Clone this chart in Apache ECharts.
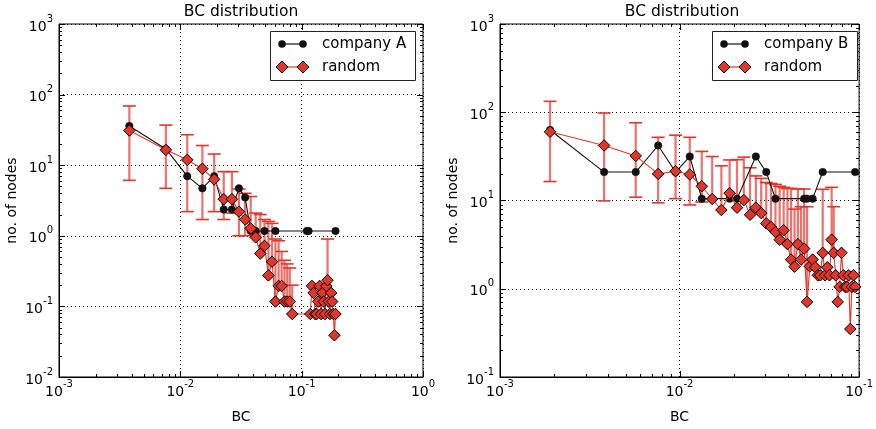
<!DOCTYPE html>
<html>
<head>
<meta charset="utf-8">
<script src="https://cdn.jsdelivr.net/npm/echarts@6/dist/echarts.min.js"></script>
<style>
  html, body { margin: 0; padding: 0; background: #fff; }
  #chart { width: 876px; height: 429px; }
</style>
</head>
<body>
<div id="chart"></div>
<script>
// ---- Company A: betweenness-centrality histogram (non-empty bins only) ----
const bcA    = [0.0038, 0.0076, 0.0114, 0.0152, 0.019, 0.0228, 0.0266, 0.0304, 0.0342, 0.038,
                0.0418, 0.0494, 0.0608, 0.1102, 0.114, 0.19];
const nodesA = [36, 17, 7.0, 4.7, 7.0, 2.35, 2.35, 4.7, 3.5, 1.17,
                1.17, 1.17, 1.17, 1.17, 1.17, 1.17];

// Random graphs of the same size: mean count per bin, with spread
const bcRandA    = [0.0038, 0.0076, 0.0114, 0.0152, 0.019, 0.0228, 0.0266, 0.0304, 0.0342, 0.038,
                    0.0418, 0.0456, 0.0494, 0.0532, 0.057, 0.0608, 0.0646, 0.0684, 0.0722, 0.076,
                    0.0798, 0.0836,
                    0.1178, 0.1216, 0.1254, 0.1292, 0.133, 0.1368, 0.1406, 0.1444, 0.1482, 0.152,
                    0.1558, 0.1596, 0.1634, 0.1672, 0.171, 0.1748, 0.1786, 0.1824, 0.1862, 0.19];
const nodesRandA = [31, 16.5, 11.9, 8.9, 6.3, 3.3, 3.3, 2.2, 1.7, 1.27,
                    0.95, 0.56, 0.72, 0.275, 0.43, 0.117, 0.195, 0.195, 0.117, 0.117,
                    0.117, 0.078,
                    0.078, 0.195, 0.155, 0.078, 0.078, 0.117, 0.195, 0.078, 0.155, 0.117,
                    0.078, 0.195, 0.235, 0.117, 0.078, 0.155, 0.117, 0.078, 0.039, 0.078];
const randLowA   = [6.1, 4.7, 2.2, 1.7, 2.2, 1.7, 2.1, 1.0, 1.0, null,
                    null, null, null, null, null, null, null, null, null, null,
                    null, null,
                    null, null, null, null, null, null, null, null, null, null,
                    null, null, null, null, null, null, null, null, null, null];
const randHighA  = [69, 37, 27, 19, 14.4, 8.1, 8.1, 4.6, 4.0, 3.6,
                    2.1, 2.0, 1.7, 1.6, 1.5, 0.9, 0.85, 0.6, 0.45, 0.4,
                    0.35, 0.2,
                    null, null, null, null, null, null, null, null, null, null,
                    null, null, 0.9, null, null, null, null, null, null, null];

// ---- Company B ----
const bcB    = [0.0019, 0.0038, 0.0057, 0.0076, 0.0095, 0.0114, 0.0133, 0.0152, 0.019, 0.0209,
                0.0266, 0.0304, 0.0342, 0.0494, 0.0513, 0.0551, 0.0627, 0.095];
const nodesB = [63, 21, 21, 42, 21, 31.5, 10.5, 10.5, 10.5, 10.5,
                31.5, 21, 10.5, 10.5, 10.5, 10.5, 21, 21];

const bcRandB    = [0.0019, 0.0038, 0.0057, 0.0076, 0.0095, 0.0114, 0.0133, 0.0152, 0.0171, 0.019,
                    0.0209, 0.0228, 0.0247, 0.0266, 0.0285, 0.0304, 0.0323, 0.0342, 0.0361, 0.038,
                    0.0399, 0.0418, 0.0437, 0.0456, 0.0475, 0.0494, 0.0513, 0.0532, 0.0551, 0.057,
                    0.0589, 0.0608, 0.0627, 0.0646, 0.0665, 0.0684, 0.0703, 0.0722, 0.0741, 0.076,
                    0.0779, 0.0798, 0.0817, 0.0836, 0.0855, 0.0874, 0.0893, 0.0912, 0.0931, 0.095];
const nodesRandB = [60, 42, 32, 20, 21.5, 19.7, 14.5, 10.4, 7.8, 12.1,
                    8.3, 10.1, 6.9, 8.3, 7.2, 5.5, 5.0, 4.4, 3.6, 4.6,
                    3.2, 2.14, 1.78, 3.2, 2.14, 2.85, 0.71, 1.79, 2.14, 1.75,
                    1.42, 1.42, 2.55, 1.42, 1.75, 1.42, 3.6, 2.55, 1.42, 0.71,
                    1.05, 2.55, 1.42, 1.05, 1.05, 1.42, 0.35, 1.05, 1.42, 1.05];
const randLowB   = [16.4, 9.9, 10.9, 9.4, 10.5, 8.9, 9.6, null, null, null,
                    null, null, null, null, null, null, null, null, null, null,
                    null, null, null, null, null, null, null, null, null, null,
                    null, null, null, null, null, null, null, null, null, null,
                    null, null, null, null, null, null, null, null, null, null];
const randHighB  = [133, 98, 76, 52, 55, 52, 36, 31.5, 24.7, 28.8,
                    29, 31, 23.5, 19, 17.8, 16, 15.6, 15.2, 14.5, 14.1,
                    13.7, 13.7, 8.0, 13.5, 8.5, 13.5, 8.5, null, null, null,
                    null, null, 13.4, null, null, null, 14.1, 8.5, null, null,
                    null, null, null, null, null, null, null, null, null, null];

// Decade exponents spanned by each axis
const xExpA = [-3, -2, -1, 0];
const yExpA = [-2, -1, 0, 1, 2, 3];
const xExpB = [-3, -2, -1];
const yExpB = [-1, 0, 1, 2, 3];

const FONT = 'DejaVu Sans';
const RED = '#e3362b';
const DARK = '#111111';

const zip = (xs, ys) => xs.map((x, i) => [x, ys[i]]);
const zipErr = (xs, ys, lo, hi) => xs.map((x, i) => [x, ys[i], lo[i] == null ? '-' : lo[i], hi[i] == null ? '-' : hi[i]]);

// Decade and in-between tick values for one axis
function tickItems(exps, axis, other) {
  const out = [];
  for (let i = 0; i < exps.length; i++) {
    const base = Math.pow(10, exps[i]);
    out.push(axis === 0 ? [base, other, 0, 1] : [other, base, 1, 1]);
    if (i < exps.length - 1) {
      for (let m = 2; m <= 9; m++) {
        const v = m * base;
        out.push(axis === 0 ? [v, other, 0, 0] : [other, v, 1, 0]);
      }
    }
  }
  return out;
}

const supRich = {
  b: { fontFamily: FONT, fontSize: 14, color: '#000', lineHeight: 20, verticalAlign: 'bottom' },
  s: { fontFamily: FONT, fontSize: 10, color: '#000', lineHeight: 12, verticalAlign: 'top' }
};
const powLabel = v => '{b|10}{s|' + Math.round(Math.log10(v)) + '}';

function xAxisFor(idx, exps) {
  return {
    type: 'log', logBase: 10, gridIndex: idx,
    min: Math.pow(10, exps[0]), max: Math.pow(10, exps[exps.length - 1]),
    name: 'BC', nameLocation: 'middle', nameGap: 33,
    nameTextStyle: { fontFamily: FONT, fontSize: 14, color: '#000' },
    axisLine: { show: true, onZero: false, lineStyle: { color: '#000', width: 1 } },
    axisTick: { show: false },
    minorTick: { show: false },
    axisLabel: { formatter: powLabel, rich: supRich, margin: 2, showMinLabel: true, showMaxLabel: true },
    splitLine: { show: true, lineStyle: { color: '#000', width: 1, type: [1, 3] } }
  };
}
function yAxisFor(idx, exps) {
  return {
    type: 'log', logBase: 10, gridIndex: idx,
    min: Math.pow(10, exps[0]), max: Math.pow(10, exps[exps.length - 1]),
    name: 'no. of nodes', nameLocation: 'middle', nameGap: 40, nameRotate: 90,
    nameTextStyle: { fontFamily: FONT, fontSize: 14, color: '#000' },
    axisLine: { show: true, onZero: false, lineStyle: { color: '#000', width: 1 } },
    axisTick: { show: false },
    minorTick: { show: false },
    axisLabel: { formatter: powLabel, rich: supRich, margin: 6, showMinLabel: true, showMaxLabel: true },
    splitLine: { show: true, lineStyle: { color: '#000', width: 1, type: [1, 3] } }
  };
}

// Inward ticks on all four sides of a panel
function renderTicks(params, api) {
  const cs = params.coordSys;
  const isY = api.value(2) === 1;
  const len = api.value(3) === 1 ? 6 : 3;
  const p = api.coord([api.value(0), api.value(1)]);
  const st = { stroke: '#000', lineWidth: 1 };
  if (!isY) {
    const x = Math.round(p[0]) + 0.5;
    const yb = cs.y + cs.height, yt = cs.y;
    return { type: 'group', children: [
      { type: 'line', shape: { x1: x, y1: yb, x2: x, y2: yb - len }, style: st },
      { type: 'line', shape: { x1: x, y1: yt, x2: x, y2: yt + len }, style: st }
    ] };
  }
  const y = Math.round(p[1]) + 0.5;
  const xl = cs.x, xr = cs.x + cs.width;
  return { type: 'group', children: [
    { type: 'line', shape: { x1: xl, y1: y, x2: xl + len, y2: y }, style: st },
    { type: 'line', shape: { x1: xr, y1: y, x2: xr - len, y2: y }, style: st }
  ] };
}

// Spread of the random-graph counts: vertical bar with caps
function renderErr(params, api) {
  const x = api.value(0), mean = api.value(1), lo = api.value(2), hi = api.value(3);
  if (isNaN(hi)) return null;
  const top = api.coord([x, hi]);
  const bot = isNaN(lo) ? api.coord([x, mean]) : api.coord([x, lo]);
  const cap = 6.5;
  const kids = [
    { type: 'line', shape: { x1: top[0], y1: top[1], x2: bot[0], y2: bot[1] },
      style: { stroke: 'rgba(228,60,50,0.72)', lineWidth: 2.2 } },
    { type: 'line', shape: { x1: top[0] - cap, y1: top[1], x2: top[0] + cap, y2: top[1] },
      style: { stroke: RED, lineWidth: 1.6 } }
  ];
  if (!isNaN(lo)) {
    kids.push({ type: 'line', shape: { x1: bot[0] - cap, y1: bot[1], x2: bot[0] + cap, y2: bot[1] },
      style: { stroke: RED, lineWidth: 1.6 } });
  }
  return { type: 'group', children: kids };
}

function panelSeries(idx, bc, nodes, bcR, nodesR, lo, hi, xExps, yExps, nameA) {
  const xMin = Math.pow(10, xExps[0]), yMin = Math.pow(10, yExps[0]);
  return [
    { type: 'custom', xAxisIndex: idx, yAxisIndex: idx, renderItem: renderTicks, clip: false, silent: true, z: 6,
      data: tickItems(xExps, 0, yMin).concat(tickItems(yExps, 1, xMin)), encode: { x: 0, y: 1 } },
    { type: 'custom', xAxisIndex: idx, yAxisIndex: idx, renderItem: renderErr, clip: false, silent: true, z: 2,
      data: zipErr(bcR, nodesR, lo, hi), encode: { x: 0, y: 1 } },
    { name: nameA, type: 'line', xAxisIndex: idx, yAxisIndex: idx, z: 3,
      data: zip(bc, nodes), symbol: 'circle', symbolSize: 7.5, showAllSymbol: true,
      itemStyle: { color: DARK, borderColor: DARK, borderWidth: 0.5 },
      lineStyle: { color: DARK, width: 1.1 } },
    { name: 'random', type: 'line', xAxisIndex: idx, yAxisIndex: idx, z: 4,
      data: zip(bcR, nodesR), symbol: 'diamond', symbolSize: 11.5, showAllSymbol: true,
      itemStyle: { color: RED, borderColor: '#000', borderWidth: 1 },
      lineStyle: { color: RED, width: 1.1 } }
  ];
}

// Legend boxes and panel titles
function legendBox(x0, y0, label) {
  const w = 145, h = 49;
  const ya = y0 + 13, yb = y0 + 36;
  const m1 = x0 + 12, m2 = x0 + 33;
  const diamond = (cx, cy) => ({ type: 'polygon', shape: { points: [[cx, cy - 6], [cx + 6, cy], [cx, cy + 6], [cx - 6, cy]] },
    style: { fill: RED, stroke: '#000', lineWidth: 1 }, z: 102 });
  return [
    { type: 'rect', shape: { x: x0 + 0.5, y: y0 + 0.5, width: w, height: h }, style: { fill: '#fff', stroke: '#222', lineWidth: 1 }, z: 100 },
    { type: 'line', shape: { x1: m1, y1: ya, x2: m2, y2: ya }, style: { stroke: DARK, lineWidth: 1.2 }, z: 101 },
    { type: 'circle', shape: { cx: m1, cy: ya, r: 3.8 }, style: { fill: DARK }, z: 102 },
    { type: 'circle', shape: { cx: m2, cy: ya, r: 3.8 }, style: { fill: DARK }, z: 102 },
    { type: 'text', x: x0 + 52, y: ya, style: { text: label, fontFamily: FONT, fontSize: 15, fill: '#000', verticalAlign: 'middle' }, z: 102 },
    { type: 'line', shape: { x1: m1, y1: yb, x2: m2, y2: yb }, style: { stroke: RED, lineWidth: 1.2 }, z: 101 },
    diamond(m1, yb), diamond(m2, yb),
    { type: 'text', x: x0 + 52, y: yb, style: { text: 'random', fontFamily: FONT, fontSize: 15, fill: '#000', verticalAlign: 'middle' }, z: 102 }
  ];
}
const titleText = cx => ({ type: 'text', x: cx, y: 11.5, style: { text: 'BC distribution', fontFamily: FONT, fontSize: 15.5,
  fill: '#000', align: 'center', verticalAlign: 'middle' } });

const chart = echarts.init(document.getElementById('chart'), null, { renderer: 'canvas' });
chart.setOption({
  animation: false,
  backgroundColor: '#fff',
  textStyle: { fontFamily: FONT },
  grid: [
    { left: 59, top: 24, width: 364, height: 361, show: true, borderColor: '#000', borderWidth: 1, backgroundColor: '#fff' },
    { left: 500, top: 24, width: 364, height: 361, show: true, borderColor: '#000', borderWidth: 1, backgroundColor: '#fff' }
  ],
  xAxis: [xAxisFor(0, xExpA), xAxisFor(1, xExpB)],
  yAxis: [yAxisFor(0, yExpA), yAxisFor(1, yExpB)],
  series: panelSeries(0, bcA, nodesA, bcRandA, nodesRandA, randLowA, randHighA, xExpA, yExpA, 'company A')
    .concat(panelSeries(1, bcB, nodesB, bcRandB, nodesRandB, randLowB, randHighB, xExpB, yExpB, 'company B')),
  graphic: [titleText(241), titleText(682)]
    .concat(legendBox(270, 31, 'company A'))
    .concat(legendBox(712, 31, 'company B'))
});
</script>
</body>
</html>
